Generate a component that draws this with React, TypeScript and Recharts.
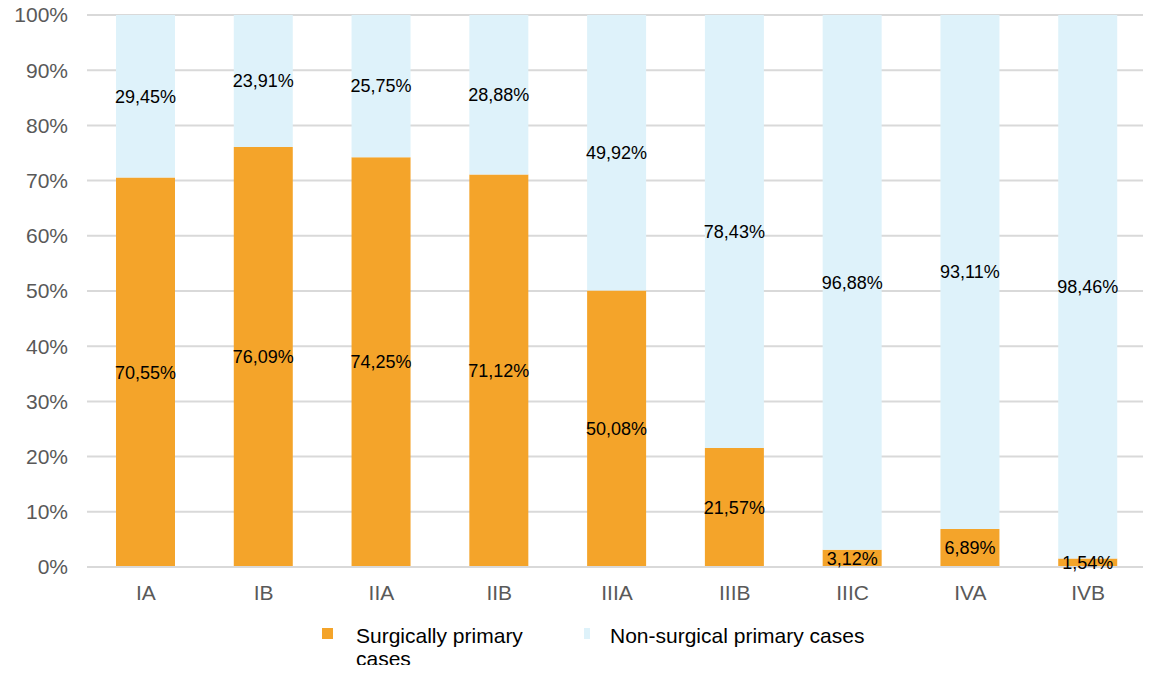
import { Bar, BarChart, CartesianGrid, LabelList, XAxis, YAxis } from "recharts";

const stages = ["IA", "IB", "IIA", "IIB", "IIIA", "IIIB", "IIIC", "IVA", "IVB"];
const surgical = [70.55, 76.09, 74.25, 71.12, 50.08, 21.57, 3.12, 6.89, 1.54];
const nonSurgical = [29.45, 23.91, 25.75, 28.88, 49.92, 78.43, 96.88, 93.11, 98.46];
const yTicks = [0, 10, 20, 30, 40, 50, 60, 70, 80, 90, 100];
const seriesNames = ["Surgically primary cases", "Non-surgical primary cases"];

const ORANGE = "#F4A42A";
const LIGHT = "#DEF2FA";
const FONT = "'Liberation Sans', Arial, sans-serif";

const chartData = stages.map((stage, i) => ({
  stage,
  surgical: surgical[i],
  nonSurgical: nonSurgical[i],
}));

const pct = (v: any) => Number(v).toFixed(2).replace(".", ",") + "%";

const legendText: React.CSSProperties = {
  position: "absolute",
  top: 624,
  fontFamily: FONT,
  fontSize: 21,
  lineHeight: "23px",
  color: "#000",
};

export default function App() {
  return (
    <div style={{ position: "relative", margin: -8, width: 1151, height: 673, background: "#fff" }}>
      <BarChart
        width={1151}
        height={673}
        data={chartData}
        margin={{ top: 15, right: 4, left: 0, bottom: 76 }}
        barSize={59}
      >
        <CartesianGrid vertical={false} stroke="#d9d9d9" strokeWidth={2} />
        <XAxis
          dataKey="stage"
          tickLine={false}
          axisLine={{ stroke: "#d9d9d9", strokeWidth: 2 }}
          tick={{ fill: "#595959", fontSize: 21, fontFamily: FONT }}
          tickMargin={12}
          height={30}
        />
        <YAxis
          domain={[0, 100]}
          ticks={yTicks}
          tickFormatter={(v) => `${v}%`}
          tickLine={false}
          axisLine={false}
          tick={{ fill: "#595959", fontSize: 21, fontFamily: FONT }}
          tickMargin={13}
          width={87}
          interval={0}
        />
        <Bar dataKey="surgical" name={seriesNames[0]} stackId="a" fill={ORANGE} isAnimationActive={false}>
          <LabelList dataKey="surgical" position="center" formatter={pct} fill="#000" fontSize={18} fontFamily={FONT} />
        </Bar>
        <Bar dataKey="nonSurgical" name={seriesNames[1]} stackId="a" fill={LIGHT} isAnimationActive={false}>
          <LabelList dataKey="nonSurgical" position="center" formatter={pct} fill="#000" fontSize={18} fontFamily={FONT} />
        </Bar>
      </BarChart>

      <div style={{ position: "absolute", left: 322, top: 628, width: 11, height: 11, background: ORANGE }} />
      <div style={{ ...legendText, left: 356, width: 200 }}>{seriesNames[0]}</div>
      <div style={{ position: "absolute", left: 584, top: 628, width: 6, height: 11, background: LIGHT }} />
      <div style={{ ...legendText, left: 610, width: 320 }}>{seriesNames[1]}</div>
    </div>
  );
}
